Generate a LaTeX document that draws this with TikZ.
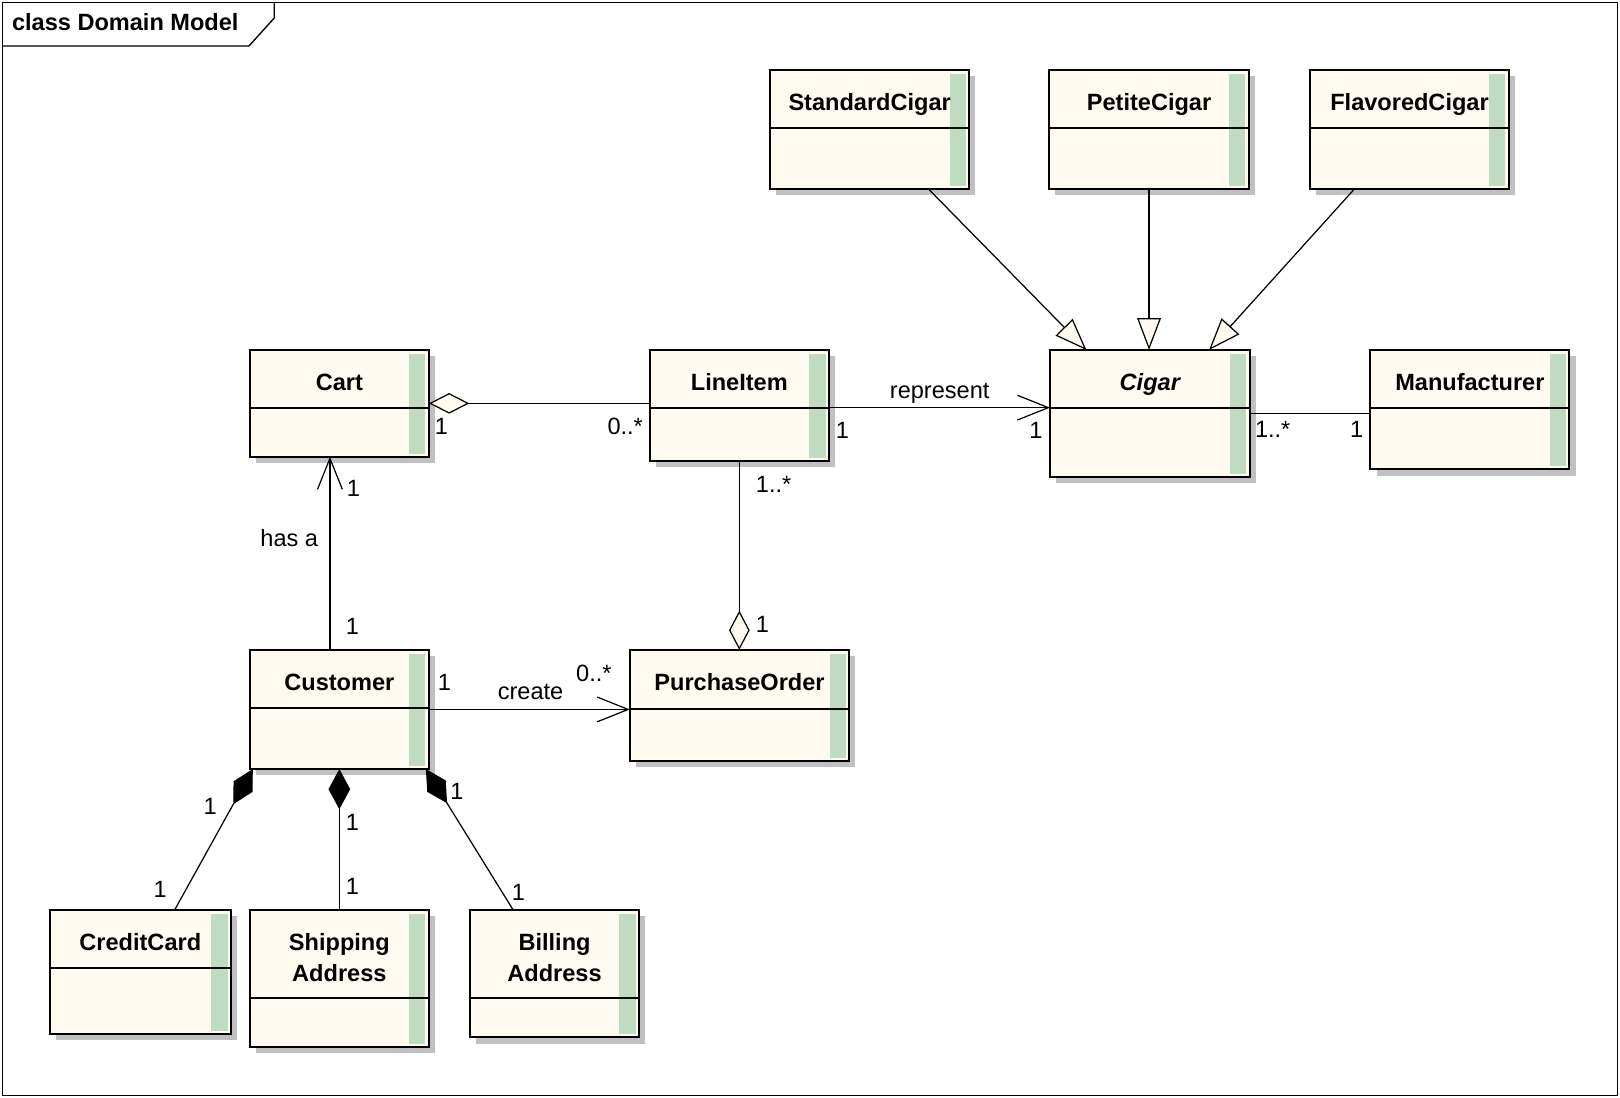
\documentclass[tikz,border=0pt]{standalone}
\usepackage{fontspec}
\setmainfont{Liberation Sans}
\usetikzlibrary{arrows.meta}
\definecolor{cream}{RGB}{255,251,240}
\definecolor{barg}{RGB}{192,220,192}
\definecolor{shad}{RGB}{192,192,192}
\tikzset{
  classbox/.style={draw=black, fill=cream, line width=2pt, inner sep=0pt, outer sep=0pt},
  divline/.style={draw=black, line width=2pt},
  nametext/.style={font=\fontsize{22.8}{27}\selectfont\bfseries, inner sep=0pt, anchor=base},
  lab/.style={font=\fontsize{22.8}{27}\selectfont, inner sep=0pt, anchor=base west},
  labc/.style={font=\fontsize{22.8}{27}\selectfont, inner sep=0pt, anchor=base},
  conn/.style={draw=black, line width=1.2pt},
  nav/.style={conn, -{Straight Barb[length=30pt,width=24pt]}},
  gen/.style={conn, -{Triangle[length=31pt,width=23pt,fill=cream]}},
  agg/.style={conn, {Diamond[length=39pt,width=20pt,fill=cream]}-},
  aggend/.style={conn, -{Diamond[length=38pt,width=20pt,fill=cream]}},
  comp/.style={conn, {Diamond[length=39pt,width=21pt]}-},
}
\newcommand\umlclass[7]{%
  \pgfmathsetmacro\bw{#4-#2}%
  \pgfmathsetmacro\bh{#5-#3}%
  \fill[shad] ({#2+6},{#3+6}) rectangle ({#4+6},{#5+6});
  \node[classbox, minimum width=\bw pt, minimum height=\bh pt, anchor=north west] (#1) at (#2,#3) {};
  \fill[barg] ({#4-3.4-15.5},{#3+3.9}) rectangle ({#4-3.4},{#5-3});
  \draw[divline] (#2,#6) -- (#4,#6);
  \node[nametext] (#1-t) at ({(#2+#4)/2},{#3+39.5}) {#7};
}
\begin{document}
\begin{tikzpicture}[x=1pt,y=-1pt]
\useasboundingbox (0,0) rectangle (1568,1062.75);
\fill[white] (0,0) rectangle (1568,1062.75);
\draw[line width=1.3pt] (2.5,2.5) rectangle (1565.5,1060.5);
\draw[line width=1.3pt] (2.5,44.5) -- (241,44.5) -- (265.5,17.4) -- (265.5,2.5);
\node[font=\fontsize{22.8}{27}\selectfont\bfseries, inner sep=0pt, anchor=base west] (title) at (11.5,29.7) {class Domain Model};

\umlclass{stdc}{745.5}{67.8}{938}{182.9}{123.6}{StandardCigar}
\umlclass{pet}{1015.6}{67.8}{1208.7}{182.9}{123.6}{PetiteCigar}
\umlclass{flav}{1268}{67.8}{1460.5}{182.9}{123.6}{FlavoredCigar}
\umlclass{cart}{241.7}{338.8}{415.2}{442}{394.6}{Cart}
\umlclass{li}{628.8}{338.8}{802.4}{445.9}{394.6}{LineItem}
\umlclass{cigar}{1016.3}{338.8}{1209.5}{461.4}{394.6}{\itshape Cigar}
\umlclass{manu}{1326.4}{338.8}{1519}{454.3}{394.6}{Manufacturer}
\umlclass{cust}{241.7}{629}{415.2}{744.3}{685.6}{Customer}
\umlclass{po}{609.6}{629}{822}{736.5}{686}{PurchaseOrder}
\umlclass{cc}{48}{880.8}{223.6}{1001}{937}{CreditCard}
\umlclass{ship}{241.7}{880.8}{415.2}{1013}{966}{Shipping}
\umlclass{bill}{455}{880.8}{618.5}{1004}{966}{Billing}
\node[nametext] (ship-t2) at (328.45,949.5) {Address};
\node[nametext] (bill-t2) at (536.75,949.5) {Address};

% generalizations
\draw[gen] ([xshift=56.9pt]stdc.south) -- ([xshift=-61.3pt]cigar.north);
\draw[gen] (pet.south) -- (pet.south |- cigar.north);
\draw[gen] ([xshift=-53.3pt]flav.south) -- ([xshift=57.3pt]cigar.north);

% associations
\draw[agg] (cart.east) -- (cart.east -| li.west);
\draw[nav] ([yshift=-2.2pt]li.east) -- ([yshift=-2.2pt]li.east -| cigar.west);
\draw[conn] (cigar.east) -- (cigar.east -| manu.west);
\draw[aggend] (li.south) -- (li.south |- po.north);
\draw[nav] ([xshift=-9.1pt]cust.north) -- ([xshift=-9.1pt]cart.south);
\draw[nav] (cust.east) -- (cust.east -| po.west);
\draw[comp] ([xshift=3pt]cust.south west) -- ([xshift=33.2pt]cc.north);
\draw[comp] (cust.south) -- (ship.north);
\draw[comp] ([xshift=-3pt]cust.south east) -- ([xshift=-40pt]bill.north);

% labels
\node[labc] (l-hasa) at (280,529) {has a};
\node[lab] (l1) at (335.5,480.7) {1};
\node[lab] (l2) at (334.5,614) {1};
\node[lab] (l3) at (420.8,420.4) {1};
\node[lab] (l4) at (587.8,420.4) {0..*};
\node[lab] (l5) at (808.9,424.2) {1};
\node[labc] (l-rep) at (909.5,385.5) {represent};
\node[lab] (l6) at (996,424.2) {1};
\node[lab] (l7) at (1214.5,423.3) {1..*};
\node[lab] (l8) at (1306.5,423.3) {1};
\node[lab] (l9) at (731.5,476.9) {1..*};
\node[lab] (l10) at (731.5,612) {1};
\node[lab] (l11) at (423.5,668.5) {1};
\node[labc] (l-create) at (513.5,677.5) {create};
\node[lab] (l12) at (557.5,660) {0..*};
\node[lab] (l13) at (197,788.2) {1};
\node[lab] (l14) at (148.5,869) {1};
\node[lab] (l15) at (334.6,804) {1};
\node[lab] (l16) at (334.6,865.3) {1};
\node[lab] (l17) at (435.6,774.3) {1};
\node[lab] (l18) at (495.3,871.8) {1};
\end{tikzpicture}
\end{document}
